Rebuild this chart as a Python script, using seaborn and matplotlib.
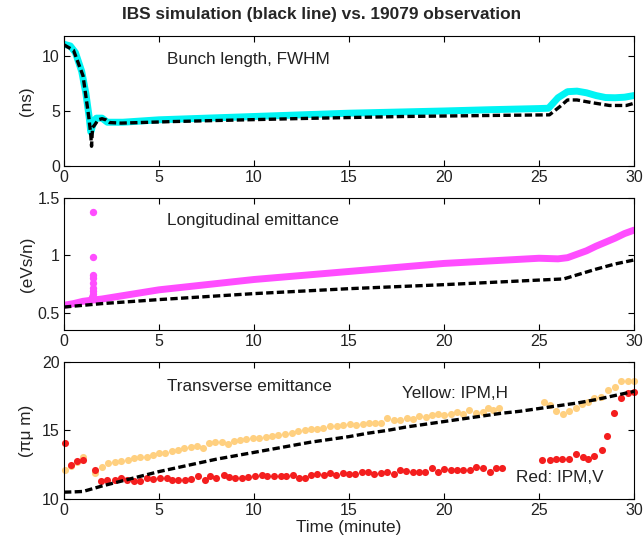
import matplotlib
matplotlib.use("Agg")
import matplotlib.pyplot as plt
import seaborn as sns
import numpy as np

# ---------------- data ----------------
# Panel 1: bunch length (ns)
bl_obs_t = [0, 0.33, 0.6, 0.93, 1.15, 1.32, 1.41, 1.54, 1.7, 2.0, 2.28, 3.1, 5.0, 7.5, 10, 12.5, 15, 17.5, 20, 22.5, 25, 25.5, 26.0, 26.5, 27.0, 27.5, 28.0, 28.5, 29.0, 29.5, 30.0]
bl_obs_v = [11.05, 10.9, 10.3, 8.6, 6.6, 4.5, 3.1, 3.9, 4.35, 4.35, 3.98, 3.98, 4.2, 4.35, 4.5, 4.65, 4.8, 4.9, 5.0, 5.12, 5.22, 5.25, 6.2, 6.75, 6.8, 6.65, 6.4, 6.22, 6.2, 6.25, 6.4]
bl_sim_t = [0, 0.5, 1.0, 1.3, 1.4, 1.45, 1.5, 1.6, 1.8, 2.0, 2.2, 2.4, 3.0, 5.7, 9.6, 13.1, 17.85, 22.8, 25.55, 26.1, 26.5, 27.0, 27.8, 28.7, 29.6, 30.0]
bl_sim_v = [11.0, 10.5, 8.2, 4.5, 3.0, 1.8, 3.5, 3.7, 4.2, 4.3, 4.2, 3.95, 3.9, 4.04, 4.2, 4.34, 4.5, 4.6, 4.65, 5.4, 6.0, 6.0, 5.75, 5.5, 5.5, 5.7]

# Panel 2: longitudinal emittance (eVs/n)
le_obs_t = [0, 0.5, 1.0, 1.47, 2.0, 5.0, 10.0, 15.0, 20.0, 25.0, 26.0, 26.5, 27.0, 27.5, 28.0, 28.5, 29.0, 29.5, 30.0]
le_obs_v = [0.565, 0.58, 0.6, 0.61, 0.62, 0.7, 0.79, 0.86, 0.93, 0.975, 0.97, 0.98, 1.01, 1.04, 1.08, 1.115, 1.15, 1.19, 1.22]
le_spike_t = [1.5, 1.5, 1.5, 1.5, 1.5, 1.5, 1.5, 1.5, 1.52, 1.48]
le_spike_v = [1.376, 0.99, 0.83, 0.80, 0.76, 0.72, 0.69, 0.66, 0.63, 0.64]
le_sim_t = [0, 2, 5, 10, 15, 20, 25, 26.3, 27, 28, 29, 30]
le_sim_v = [0.55, 0.58, 0.615, 0.667, 0.71, 0.745, 0.785, 0.795, 0.83, 0.88, 0.925, 0.96]

# Panel 3: transverse emittance (pi mu m)
te_sim_t = [0, 0.5, 1.0, 1.5, 2, 3, 4, 5, 6, 7, 8, 9, 10, 11, 12, 13, 14, 15, 16, 17, 18, 19, 20, 21, 22, 23, 24, 25, 26, 27, 28, 29, 30]
te_sim_v = [10.5, 10.52, 10.55, 10.75, 10.95, 11.3, 11.65, 12.0, 12.3, 12.6, 12.9, 13.15, 13.4, 13.65, 13.9, 14.15, 14.35, 14.55, 14.8, 15.0, 15.25, 15.45, 15.65, 15.85, 16.05, 16.25, 16.4, 16.6, 16.8, 17.0, 17.25, 17.55, 17.85]

yel_t = [0.03, 0.37, 0.67, 1.02, 1.63, 2.0, 2.33, 2.68, 3.0, 3.35, 3.67, 4.0, 4.35, 4.67, 5.0, 5.33, 5.67, 5.98, 6.33, 6.68, 6.98, 7.33, 7.63, 7.95, 8.3, 8.65, 8.97, 9.26, 9.6, 9.93, 10.28, 10.63, 10.93, 11.28, 11.63, 11.98, 12.33, 12.68, 13.0, 13.33, 13.65, 14.0, 14.35, 14.7, 15.05, 15.37, 15.72, 16.07, 16.37, 16.67, 17.02, 17.37, 17.68, 18.04, 18.35, 18.7, 19.05, 19.35, 19.67, 20.02, 20.37, 20.7, 21.02, 21.33, 21.68, 22.04, 22.33, 22.6, 22.87,
         25.27, 25.6, 25.9, 26.24, 26.6, 26.95, 27.27, 27.6, 27.9, 28.28, 28.63, 28.99, 29.3, 29.66, 30.0]
yel_v = [12.15, 12.4, 12.7, 13.1, 11.9, 12.3, 12.6, 12.72, 12.8, 12.87, 12.96, 13.1, 13.1, 13.2, 13.33, 13.36, 13.5, 13.6, 13.7, 13.8, 13.85, 13.75, 14.05, 14.14, 14.14, 14.0, 14.26, 14.3, 14.36, 14.44, 14.46, 14.5, 14.56, 14.68, 14.75, 14.83, 14.95, 15.05, 15.1, 15.12, 15.17, 15.3, 15.3, 15.37, 15.49, 15.37, 15.49, 15.54, 15.54, 15.54, 15.93, 15.74, 15.74, 15.93, 15.86, 16.03, 15.98, 16.1, 16.22, 16.1, 16.17, 16.35, 16.17, 16.47, 16.27, 16.35, 16.64, 16.5, 16.67,
         17.05, 16.85, 16.4, 16.2, 16.4, 16.65, 16.9, 17.05, 17.4, 17.45, 17.95, 18.2, 18.6, 18.6, 18.6]

red_t = [0.03, 0.35, 0.67, 1.0, 1.63, 1.95, 2.28, 2.67, 3.0, 3.3, 3.7, 4.0, 4.36, 4.7, 5.05, 5.4, 5.7, 6.0, 6.35, 6.7, 7.05, 7.4, 7.7, 8.0, 8.4, 8.7, 9.0, 9.35, 9.7, 10.05, 10.4, 10.7, 11.06, 11.4, 11.7, 12.04, 12.36, 12.7, 13.0, 13.34, 13.67, 14.0, 14.34, 14.66, 15.0, 15.3, 15.7, 16.0, 16.33, 16.66, 17.0, 17.35, 17.7, 18.0, 18.35, 18.7, 19.0, 19.37, 19.7, 20.0, 20.35, 20.67, 21.0, 21.37, 21.7, 22.04, 22.4, 22.73, 23.06,
         25.18, 25.57, 25.9, 26.2, 26.6, 26.95, 27.3, 27.6, 27.9, 28.3, 28.6, 28.97, 29.3, 29.66, 30.0]
red_v = [14.05, 12.5, 12.75, 12.85, 12.15, 11.3, 11.4, 11.4, 11.55, 11.4, 11.35, 11.35, 11.5, 11.45, 11.5, 11.5, 11.4, 11.4, 11.4, 11.45, 11.65, 11.4, 11.65, 11.55, 11.75, 11.6, 11.5, 11.5, 11.6, 11.65, 11.75, 11.65, 11.65, 11.65, 11.65, 11.75, 11.55, 11.55, 11.75, 11.8, 11.75, 11.9, 11.75, 11.9, 11.85, 11.85, 11.95, 11.95, 11.8, 11.9, 12.0, 11.8, 12.15, 12.05, 12.0, 11.95, 11.95, 12.25, 11.95, 12.2, 12.15, 12.1, 12.15, 12.15, 12.35, 12.25, 12.0, 12.25, 12.25,
         12.82, 12.82, 12.9, 12.95, 12.95, 13.3, 13.1, 12.95, 13.15, 13.6, 14.6, 16.3, 17.4, 17.7, 17.8]

xticks = [0, 5, 10, 15, 20, 25, 30]

# ---------------- figure ----------------
sns.set_theme(style="ticks")
plt.rcParams['font.family'] = ['Liberation Sans', 'DejaVu Sans']

fig = plt.figure(figsize=(6.44, 5.5), dpi=100)
L, W = 0.0994, 0.8851
ax1 = fig.add_axes([L, 0.698, W, 0.2365])
ax2 = fig.add_axes([L, 0.400, W, 0.240])
ax3 = fig.add_axes([L, 0.0927, W, 0.2493])

CYAN = "#00F4F4"
MAG = "#FF4DFF"
YEL = "#FFD080"
RED = "#F41E1E"
dash = (0, (2.2, 1.0))
FS_TXT = 12.3
FS_TICK = 11.5
TXT_COL = "#222222"

# Panel 1
sns.lineplot(x=bl_obs_t, y=bl_obs_v, ax=ax1, color=CYAN, linewidth=5.0, estimator=None, sort=False, legend=False)
sns.lineplot(x=bl_sim_t, y=bl_sim_v, ax=ax1, color="black", linewidth=2.4, estimator=None, sort=False, legend=False)
ax1.lines[-1].set_linestyle(dash)
ax1.set_ylim(0, 11.8)
ax1.set_yticks([0, 5, 10])
ax1.text(5.4, 9.7, "Bunch length, FWHM", fontsize=FS_TXT, va="center", ha="left", color=TXT_COL)
ax1.set_ylabel("(ns)", fontsize=FS_TXT, labelpad=6, color=TXT_COL)

# Panel 2
sns.lineplot(x=le_obs_t, y=le_obs_v, ax=ax2, color=MAG, linewidth=5.0, estimator=None, sort=False, legend=False)
sns.scatterplot(x=le_spike_t, y=le_spike_v, ax=ax2, color=MAG, s=28, linewidth=0, legend=False)
sns.lineplot(x=le_sim_t, y=le_sim_v, ax=ax2, color="black", linewidth=2.4, estimator=None, sort=False, legend=False)
ax2.lines[-1].set_linestyle(dash)
ax2.set_ylim(0.35, 1.5)
ax2.set_yticks([0.5, 1.0, 1.5])
ax2.set_yticklabels(["0.5", "1", "1.5"])
ax2.text(5.4, 1.30, "Longitudinal emittance", fontsize=FS_TXT, va="center", ha="left", color=TXT_COL)
ax2.set_ylabel("(eVs/n)", fontsize=FS_TXT, labelpad=2, color=TXT_COL)

# Panel 3
sns.lineplot(x=te_sim_t, y=te_sim_v, ax=ax3, color="black", linewidth=2.4, estimator=None, sort=False, legend=False)
ax3.lines[-1].set_linestyle(dash)
sns.scatterplot(x=yel_t, y=yel_v, ax=ax3, color=YEL, s=26, linewidth=0, legend=False, clip_on=False)
sns.scatterplot(x=red_t, y=red_v, ax=ax3, color=RED, s=26, linewidth=0, legend=False, clip_on=False)
ax3.set_ylim(10, 20)
ax3.set_yticks([10, 15, 20])
ax3.text(5.4, 18.2, "Transverse emittance", fontsize=FS_TXT, va="center", ha="left", color=TXT_COL)
ax3.text(17.8, 17.73, "Yellow: IPM,H", fontsize=FS_TXT, va="center", ha="left", color=TXT_COL)
ax3.text(23.8, 11.6, "Red: IPM,V", fontsize=FS_TXT, va="center", ha="left", color=TXT_COL)
ax3.set_ylabel("(\u03c0\u03bc m)", fontsize=FS_TXT, labelpad=6, color=TXT_COL)
ax3.set_xlabel("Time (minute)", fontsize=FS_TXT, labelpad=1, color=TXT_COL)

for ax in (ax1, ax2, ax3):
    ax.set_xlim(0, 30)
    ax.set_xticks(xticks)
    ax.tick_params(direction="in", top=True, right=True, length=4, width=0.8,
                   labelsize=FS_TICK, pad=3, colors="black", labelcolor=TXT_COL)
    for sp in ax.spines.values():
        sp.set_visible(True)
        sp.set_linewidth(0.8)
        sp.set_color("black")
    ax.set_facecolor("white")
    if ax is not ax3:
        ax.set_xlabel("")

fig.suptitle("IBS simulation (black line) vs. 19079 observation", fontsize=12.4,
             fontweight="bold", y=0.988)

fig.savefig("out.png", dpi=100, facecolor="white")
